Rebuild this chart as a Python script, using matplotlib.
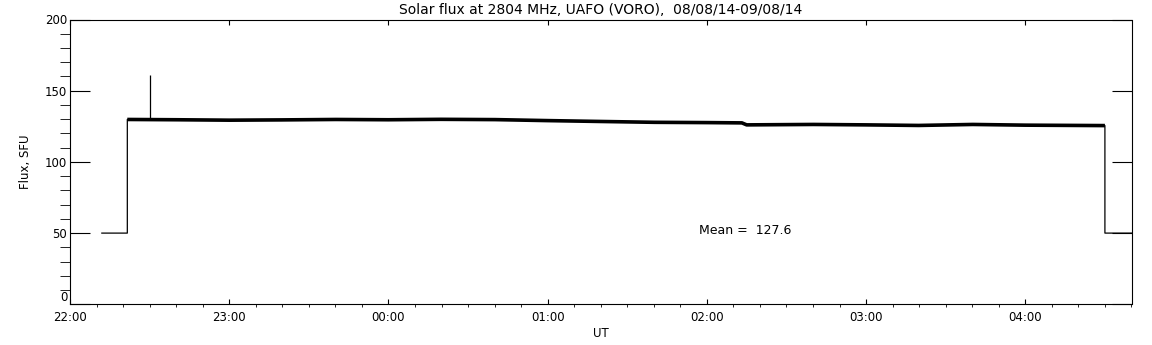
#!/usr/bin/env python3

import numpy as np
import matplotlib
matplotlib.use("Agg")
import matplotlib.pyplot as plt
from matplotlib.ticker import MultipleLocator

# hours after 22:00 UT
t = np.array([0.20, 0.36, 0.36, 0.67, 1.00, 1.33, 1.67, 2.00, 2.33, 2.67,
              3.00, 3.33, 3.67, 4.00, 4.22, 4.25, 4.67, 5.00, 5.33, 5.67,
              6.00, 6.50, 6.50, 6.667])
flux = np.array([50.0, 50.0, 129.8, 129.6, 129.3, 129.5, 129.8, 129.6, 129.9,
                 129.7, 129.0, 128.4, 127.8, 127.6, 127.4, 126.0, 126.3, 126.0,
                 125.6, 126.3, 125.8, 125.5, 50.0, 50.0])

spike_t = [0.50]
spike_v = [161.0]

xticks = [0, 1, 2, 3, 4, 5, 6]
xlabels = ["22:00", "23:00", "00:00", "01:00", "02:00", "03:00", "04:00"]
yticks = [0, 50, 100, 150, 200]
mean_flux = 127.6

fig = plt.figure(figsize=(11.52, 3.45), dpi=100)
ax = fig.add_axes([70 / 1152, 1 - 304.3 / 345, 1061.5 / 1152, 284.8 / 345])

ax.plot(t, flux, c="k", lw=0.9)
ax.plot(t[2:-2], flux[2:-2], c="k", lw=2.6, solid_capstyle="butt")
ax.vlines(spike_t, np.interp(spike_t, t[2:-2], flux[2:-2]), spike_v, colors="k", lw=0.9)

ax.set_xlim(0, 6.667)
ax.set_ylim(0, 200)
ax.set_xticks(xticks)
ax.set_xticklabels(xlabels)
ax.set_yticks(yticks)
ax.xaxis.set_minor_locator(MultipleLocator(1 / 6))
ax.yaxis.set_minor_locator(MultipleLocator(10))

ax.tick_params(direction="in", top=True, right=True, labelsize=8.5, width=0.8)
ax.tick_params(axis="x", which="major", length=3.8, pad=5)
ax.tick_params(axis="x", which="minor", length=2)
ax.tick_params(axis="y", which="major", length=14.4, pad=2)
ax.tick_params(axis="y", which="minor", length=7.2)
for s in ax.spines.values():
    s.set_linewidth(0.8)
ax.get_yticklabels()[0].set_va("bottom")

ax.set_title("Solar flux at 2804 MHz, UAFO (VORO),  08/08/14-09/08/14", fontsize=10, pad=4)
ax.set_xlabel("UT", fontsize=8.5, labelpad=2)
ax.set_ylabel("Flux, SFU", fontsize=8.5, labelpad=9)
ax.text(3.95, 52, "Mean =  %.1f" % mean_flux, fontsize=9, va="center")

fig.savefig("out.png", dpi=100)
